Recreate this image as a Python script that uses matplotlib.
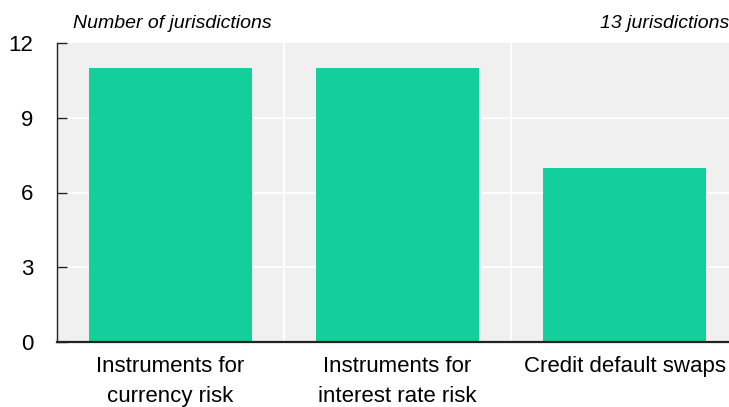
import matplotlib.pyplot as plt
import numpy as np

categories = ['Instruments for\ncurrency risk', 'Instruments for\ninterest rate risk', 'Credit default swaps']
values = [11, 11, 7]
yticks = [0, 3, 6, 9, 12]

plt.rcParams['font.family'] = ['Liberation Sans', 'DejaVu Sans']

fig = plt.figure(figsize=(7.29, 4.07), dpi=100)
ax = fig.add_axes([57 / 729, 65 / 407, 681 / 729, 299 / 407])
ax.set_facecolor('#f0f0f0')

x = np.arange(len(values))
ax.bar(x, values, width=0.714, color='#13cf9b', zorder=3)

ax.set_xlim(-0.5, 2.5)
ax.set_ylim(0, 12)
ax.set_yticks(yticks)
ax.set_yticklabels([str(t) for t in yticks], fontsize=16)
ax.set_xticks(x)
ax.set_xticklabels(categories, fontsize=16, linespacing=1.55)

# white grid: horizontal at ticks, vertical between categories
for t in yticks[1:-1]:
    ax.axhline(t, color='white', lw=1.3, zorder=1)
for b in [0.5, 1.5]:
    ax.axvline(b, color='white', lw=1.3, zorder=1)

for s in ['top', 'right']:
    ax.spines[s].set_visible(False)
ax.spines['left'].set_color('#222222')
ax.spines['left'].set_linewidth(1.0)
ax.spines['bottom'].set_color('#222222')
ax.spines['bottom'].set_linewidth(1.6)
ax.spines['bottom'].set_zorder(4)

ax.tick_params(axis='y', direction='in', length=7, width=1, color='#222222', pad=17)
ax.tick_params(axis='x', length=0, pad=10)

fig.text(73 / 729, 1 - 28 / 407, 'Number of jurisdictions', fontsize=14,
         style='italic', ha='left', va='baseline')
fig.text(729 / 729, 1 - 28 / 407, '13 jurisdictions', fontsize=14,
         style='italic', ha='right', va='baseline')

fig.savefig('out.png', dpi=100)
